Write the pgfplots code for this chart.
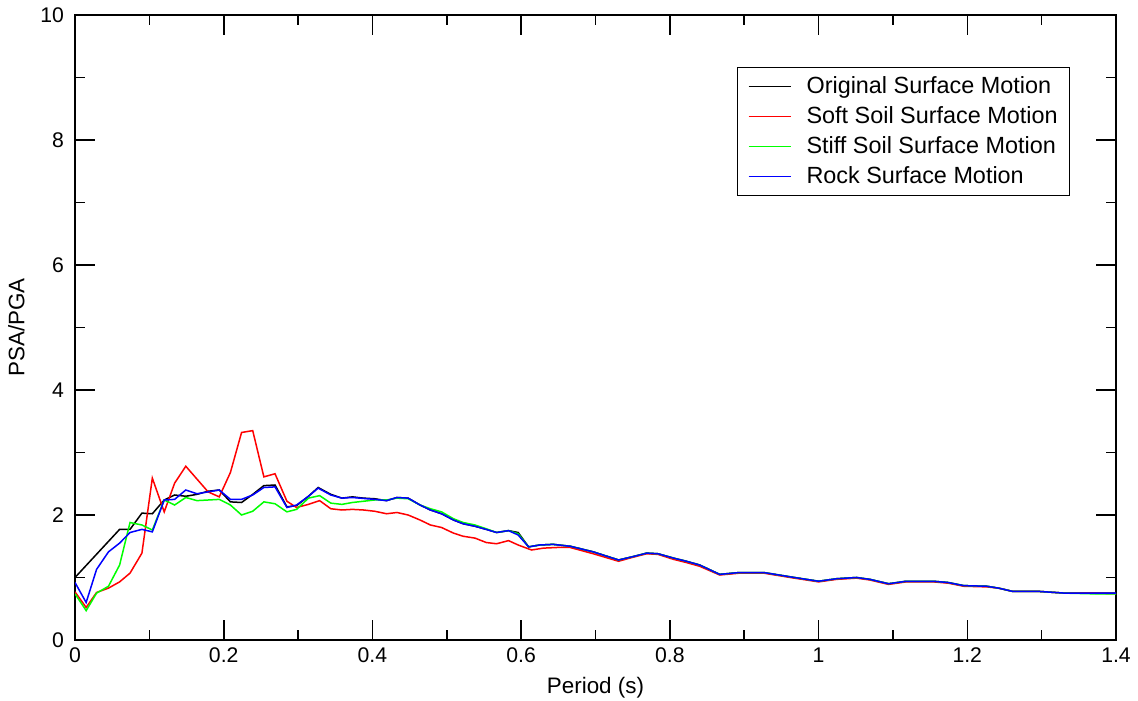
\documentclass[border=0pt]{standalone}
\usepackage{fontspec}
\setmainfont{Liberation Sans}
\usepackage{pgfplots}
\usepackage{pgfplotstable}
\pgfplotsset{compat=1.18}

% period (s), PSA/PGA
\pgfplotstableread{
t v
0.000 1.00
0.060 1.77
0.074 1.77
0.090 2.03
0.104 2.02
0.120 2.24
0.134 2.32
0.149 2.30
0.164 2.33
0.179 2.38
0.194 2.40
0.209 2.21
0.224 2.20
0.239 2.33
0.254 2.47
0.269 2.48
0.285 2.13
0.298 2.15
0.314 2.30
0.327 2.44
0.344 2.33
0.359 2.27
0.373 2.29
0.388 2.27
0.403 2.26
0.419 2.23
0.433 2.28
0.448 2.27
0.464 2.16
0.478 2.08
0.493 2.02
0.509 1.92
0.522 1.86
0.538 1.82
0.553 1.77
0.567 1.72
0.583 1.75
0.596 1.72
0.610 1.49
0.625 1.52
0.643 1.53
0.666 1.50
0.697 1.41
0.731 1.28
0.749 1.33
0.769 1.39
0.784 1.38
0.805 1.31
0.822 1.26
0.840 1.20
0.867 1.05
0.894 1.08
0.926 1.08
0.962 1.01
1.000 0.94
1.024 0.98
1.051 1.00
1.069 0.97
1.094 0.90
1.118 0.94
1.154 0.94
1.174 0.92
1.195 0.87
1.226 0.86
1.242 0.83
1.260 0.78
1.293 0.78
1.331 0.75
1.365 0.75
1.400 0.75
}\original

\pgfplotstableread{
t v
0.000 0.77
0.015 0.52
0.029 0.76
0.045 0.83
0.060 0.93
0.074 1.07
0.090 1.39
0.104 2.59
0.120 2.05
0.134 2.51
0.149 2.78
0.179 2.37
0.194 2.29
0.209 2.68
0.224 3.32
0.239 3.35
0.254 2.61
0.269 2.66
0.285 2.22
0.298 2.12
0.314 2.17
0.329 2.23
0.344 2.10
0.359 2.08
0.373 2.09
0.388 2.08
0.403 2.06
0.419 2.02
0.433 2.04
0.448 2.00
0.464 1.92
0.478 1.84
0.493 1.80
0.509 1.71
0.522 1.66
0.538 1.63
0.553 1.56
0.567 1.54
0.583 1.59
0.596 1.52
0.614 1.44
0.630 1.47
0.648 1.48
0.666 1.48
0.697 1.38
0.731 1.26
0.749 1.32
0.769 1.38
0.784 1.37
0.805 1.29
0.822 1.24
0.840 1.18
0.867 1.04
0.894 1.07
0.926 1.07
0.962 1.00
1.000 0.93
1.024 0.97
1.051 0.99
1.069 0.96
1.094 0.89
1.118 0.93
1.154 0.93
1.174 0.91
1.195 0.86
1.226 0.85
1.242 0.83
1.260 0.78
1.293 0.78
1.331 0.75
1.365 0.75
1.400 0.74
}\soft

\pgfplotstableread{
t v
0.000 0.74
0.015 0.47
0.029 0.75
0.045 0.86
0.060 1.20
0.074 1.88
0.090 1.84
0.104 1.76
0.120 2.24
0.134 2.16
0.149 2.28
0.164 2.23
0.194 2.25
0.209 2.16
0.224 2.00
0.239 2.06
0.254 2.21
0.269 2.18
0.285 2.05
0.298 2.09
0.314 2.27
0.329 2.31
0.344 2.19
0.359 2.17
0.373 2.20
0.403 2.24
0.419 2.24
0.433 2.27
0.448 2.26
0.464 2.16
0.478 2.10
0.493 2.05
0.509 1.94
0.522 1.88
0.538 1.84
0.553 1.78
0.567 1.72
0.583 1.75
0.596 1.70
0.610 1.49
0.625 1.52
0.643 1.53
0.666 1.50
0.697 1.41
0.731 1.28
0.749 1.33
0.769 1.39
0.784 1.38
0.805 1.31
0.822 1.26
0.840 1.20
0.867 1.05
0.894 1.08
0.926 1.08
0.962 1.01
1.000 0.94
1.024 0.98
1.051 1.00
1.069 0.97
1.094 0.90
1.118 0.94
1.154 0.94
1.174 0.92
1.195 0.87
1.226 0.86
1.242 0.83
1.260 0.78
1.293 0.78
1.331 0.75
1.365 0.74
1.400 0.74
}\stiff

\pgfplotstableread{
t v
0.000 0.92
0.015 0.60
0.029 1.13
0.045 1.41
0.060 1.55
0.074 1.72
0.090 1.77
0.104 1.73
0.120 2.24
0.134 2.25
0.149 2.40
0.164 2.34
0.194 2.40
0.209 2.25
0.224 2.25
0.239 2.32
0.254 2.44
0.269 2.45
0.285 2.12
0.298 2.16
0.314 2.30
0.327 2.43
0.344 2.32
0.359 2.27
0.373 2.28
0.403 2.25
0.419 2.23
0.433 2.28
0.448 2.27
0.464 2.16
0.478 2.08
0.493 2.02
0.509 1.92
0.522 1.86
0.538 1.82
0.553 1.77
0.567 1.72
0.583 1.75
0.596 1.68
0.610 1.49
0.625 1.52
0.643 1.53
0.666 1.50
0.697 1.41
0.731 1.28
0.749 1.33
0.769 1.39
0.784 1.38
0.805 1.31
0.822 1.26
0.840 1.20
0.867 1.05
0.894 1.08
0.926 1.08
0.962 1.01
1.000 0.94
1.024 0.98
1.051 1.00
1.069 0.97
1.094 0.90
1.118 0.94
1.154 0.94
1.174 0.92
1.195 0.87
1.226 0.86
1.242 0.83
1.260 0.78
1.293 0.78
1.331 0.75
1.365 0.75
1.400 0.75
}\rock

\begin{document}
\begin{tikzpicture}
\begin{axis}[
  name=ax,
  scale only axis,
  width=520.5pt, height=312.5pt,
  xmin=0, xmax=1.4, ymin=0, ymax=10,
  xtick={0,0.2,0.4,0.6,0.8,1,1.2,1.4},
  xticklabels={0,0.2,0.4,0.6,0.8,1,1.2,1.4},
  ytick={0,2,4,6,8,10},
  minor x tick num=1, minor y tick num=1,
  tick align=inside,
  major tick length=10pt, minor tick length=5pt,
  tick style={line width=0.8pt, black},
  axis line style={line width=1pt},
  /pgf/number format/assume math mode=true,
  tick label style={font=\fontsize{10.6}{13}\selectfont},
  label style={font=\fontsize{11.2}{13}\selectfont},
  xlabel={Period (s)},
  ylabel={PSA/PGA},
  xticklabel style={yshift=-0.5pt},
  yticklabel style={xshift=-2pt},
  xlabel style={yshift=0pt},
  ylabel style={yshift=1pt},
  legend cell align=left,
  legend style={at={(0.956,0.917)}, anchor=north east, draw=black, line width=0.6pt,
    font=\fontsize{11.7}{14}\selectfont, inner xsep=4pt, inner ysep=2.5pt,
    row sep=1pt},
  legend image code/.code={\draw[#1, line width=0.8pt] (0pt,0pt) -- (21pt,0pt);
    \path[draw=none] (-1.5pt,0pt) -- (27pt,0pt);},
  every axis plot/.append style={line width=0.75pt},
]
\addplot[black] table[x=t, y=v] {\original};
\addplot[red] table[x=t, y=v] {\soft};
\addplot[green] table[x=t, y=v] {\stiff};
\addplot[blue] table[x=t, y=v] {\rock};
\legend{Original Surface Motion, Soft Soil Surface Motion, Stiff Soil Surface Motion, Rock Surface Motion}
\end{axis}
\pgfresetboundingbox
\path[use as bounding box] ([xshift=-37.5pt,yshift=-30pt]ax.south west)
  rectangle ([xshift=11pt,yshift=7.5pt]ax.north east);
\end{tikzpicture}
\end{document}
